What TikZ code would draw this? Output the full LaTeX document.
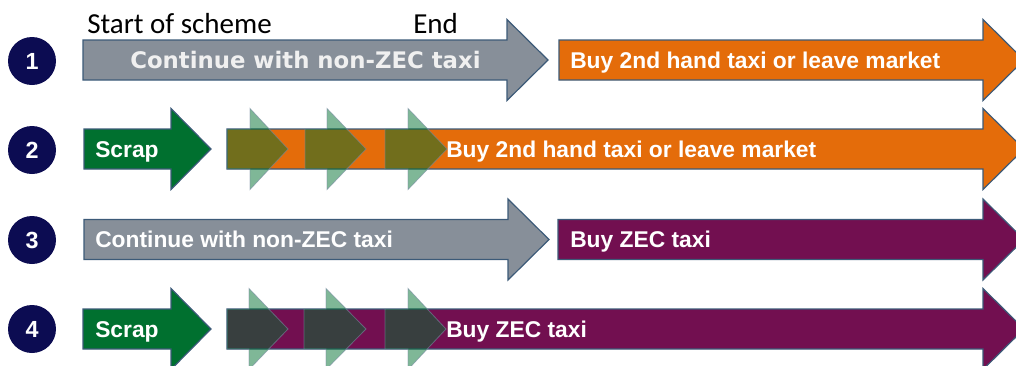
\documentclass[tikz,border=0pt]{standalone}
\usepackage{fontspec}
\setmainfont{Liberation Sans}
\newfontfamily\calibfont{Carlito}
\newfontfamily\widefont{DejaVu Sans}
\definecolor{arrgray}{HTML}{878F99}
\definecolor{arrorange}{HTML}{E46C0A}
\definecolor{arrpurple}{HTML}{720F50}
\definecolor{arrgreen}{HTML}{00702F}
\definecolor{navy}{HTML}{0C0C52}
\definecolor{edgeblue}{HTML}{3C5A78}
\newcommand\arrowshape[6]{% style, x0, xb, yc, headhalf, headlen
  \path[#1] (#2,{#4-20}) -- (#3,{#4-20}) -- (#3,{#4-#5}) -- ({#3+#6},#4)
    -- (#3,{#4+#5}) -- (#3,{#4+20}) -- (#2,{#4+20}) -- cycle;}
\tikzset{
  bigarrow/.style={draw=edgeblue, line width=0.9pt, line join=miter},
  ghost/.style={draw=edgeblue!70, line width=0.6pt, fill=arrgreen, fill opacity=0.5, draw opacity=0.6},
  lbl/.style={inner sep=0, anchor=base west, text=white, font=\fontsize{17.1}{20}\selectfont\bfseries},
  head/.style={inner sep=0, anchor=base west, text=black, font=\calibfont\fontsize{21.75}{24}\selectfont},
  numcirc/.style={circle, fill=navy, minimum size=36pt, inner sep=0, text=white, font=\fontsize{17.5}{20}\selectfont\bfseries},
}
\begin{document}
\begin{tikzpicture}[x=0.75pt,y=-0.75pt]
\useasboundingbox (0,0) rectangle (1016,365);
\clip (0,0) rectangle (1016,365);

% row 1
\arrowshape{bigarrow, fill=arrgray}{83}{507}{60}{40.5}{41}
\arrowshape{bigarrow, fill=arrorange}{559}{983}{60}{40.5}{41}
% row 2
\arrowshape{bigarrow, fill=arrorange}{227}{983}{149}{40.5}{41}
\arrowshape{bigarrow, fill=arrgreen}{84}{171}{149}{40.5}{40}
\arrowshape{ghost}{227}{250}{149}{40.5}{38}
\arrowshape{ghost}{305}{327}{149}{40.5}{39}
\arrowshape{ghost}{385}{408}{149}{40.5}{39}
% row 3
\arrowshape{bigarrow, fill=arrgray}{84}{508}{239.5}{40.5}{41}
\arrowshape{bigarrow, fill=arrpurple}{558}{983}{239.5}{40.5}{41}
% row 4
\arrowshape{bigarrow, fill=arrpurple}{227}{983}{329}{40.5}{41}
\arrowshape{bigarrow, fill=arrgreen}{83}{171}{329}{40.5}{40}
\arrowshape{ghost}{227}{249}{329}{40.5}{39}
\arrowshape{ghost}{304}{326}{329}{40.5}{40}
\arrowshape{ghost}{385}{408}{329}{40.5}{38}

% circles
\node[numcirc] (n1) at (32,61) {1};
\node[numcirc] (n2) at (32,150) {2};
\node[numcirc] (n3) at (32,240) {3};
\node[numcirc] (n4) at (32,329) {4};

% headings
\node[head] (start) at (87,33) {Start of scheme};
\node[head] (end) at (413,33) {End};

% labels
\node[lbl, text=white!94!black, font=\widefont\fontsize{17.1}{20}\selectfont\bfseries] (r1a) at (130,68.5) {Continue with non-ZEC taxi};
\node[lbl] (r1b) at (570,68) {Buy 2nd hand taxi or leave market};
\node[lbl] (r2a) at (95,157) {Scrap};
\node[lbl] (r2b) at (446,157) {Buy 2nd hand taxi or leave market};
\node[lbl] (r3a) at (95,247.5) {Continue with non-ZEC taxi};
\node[lbl] (r3b) at (570,247.5) {Buy ZEC taxi};
\node[lbl] (r4a) at (95,337) {Scrap};
\node[lbl] (r4b) at (446,337) {Buy ZEC taxi};
\end{tikzpicture}
\end{document}
